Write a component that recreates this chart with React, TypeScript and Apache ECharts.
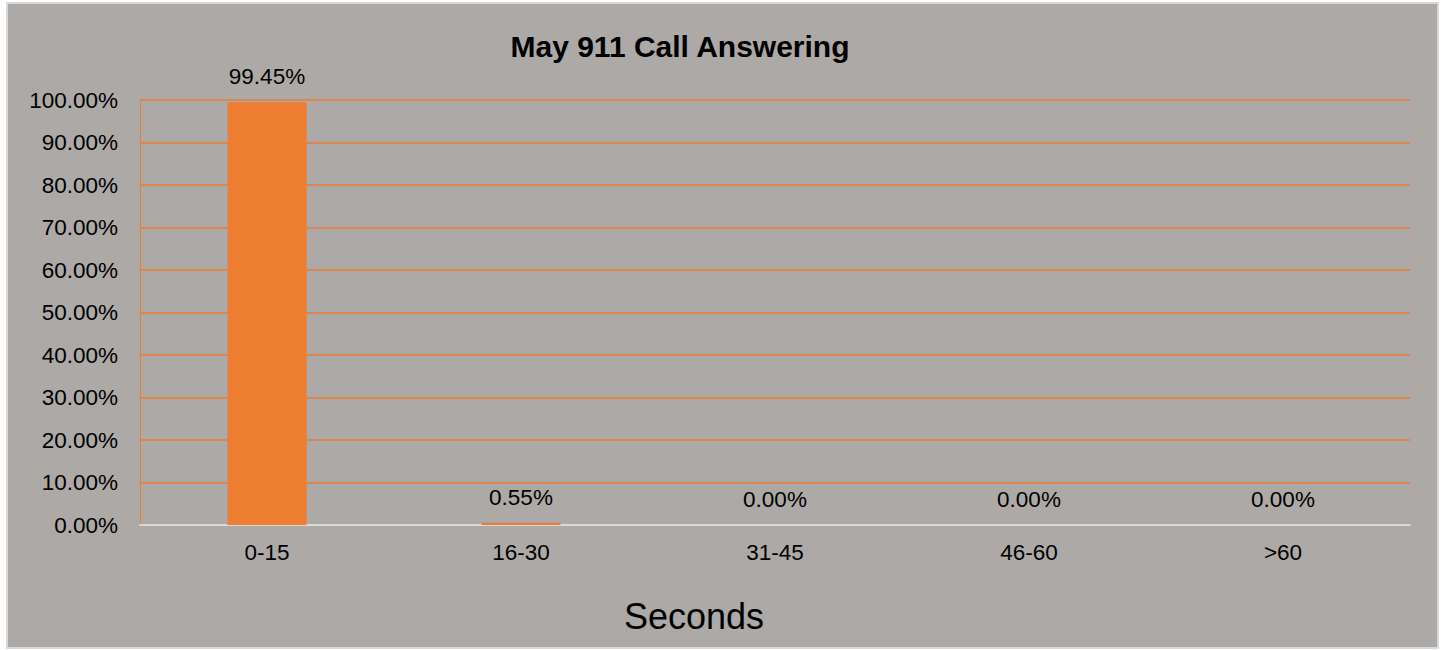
import React, { useEffect, useRef } from "react";
import * as echarts from "echarts";

const categories = ["0-15", "16-30", "31-45", "46-60", ">60"];
const values = [99.45, 0.55, 0, 0, 0];
const titleText = "May 911 Call Answering";
const xAxisTitle = "Seconds";

const FONT = "'Liberation Sans', Arial, sans-serif";

export default function App() {
  const ref = useRef<HTMLDivElement>(null);
  useEffect(() => {
    if (!ref.current) return;
    const chart = echarts.init(ref.current, undefined, { renderer: "svg" });
    chart.setOption({
      animation: false,
      backgroundColor: "#ffffff",
      graphic: [
        {
          type: "rect",
          z: -10,
          shape: { x: 7, y: 3, width: 1431, height: 645 },
          style: { fill: "#ADA9A7", stroke: "#D9D9D9", lineWidth: 2 },
          silent: true,
        },
        {
          type: "text",
          x: 680,
          y: 46,
          style: {
            text: titleText,
            fontFamily: FONT,
            fontSize: 30,
            fontWeight: "bold",
            fill: "#000",
            textAlign: "center",
            textVerticalAlign: "middle",
          },
        },
        {
          type: "text",
          x: 694,
          y: 616,
          style: {
            text: xAxisTitle,
            fontFamily: FONT,
            fontSize: 36,
            fill: "#000",
            textAlign: "center",
            textVerticalAlign: "middle",
          },
        },
      ],
      grid: { left: 140, right: 33, top: 100, bottom: 125, containLabel: false },
      xAxis: {
        type: "category",
        data: categories,
        axisLine: { show: true, lineStyle: { color: "#D9D9D9", width: 2 } },
        axisTick: { show: false },
        axisLabel: { color: "#000", fontFamily: FONT, fontSize: 22.5, margin: 16 },
        splitLine: { show: false },
      },
      yAxis: {
        type: "value",
        min: 0,
        max: 100,
        interval: 10,
        axisLine: { show: true, lineStyle: { color: "#ED7D31", width: 1 } },
        axisTick: { show: false },
        axisLabel: {
          color: "#000",
          fontFamily: FONT,
          fontSize: 22.5,
          margin: 22,
          formatter: (v: number) => v.toFixed(2) + "%",
        },
        splitLine: { show: true, lineStyle: { color: "#ED7D31", width: 1.5 } },
      },
      series: [
        {
          type: "bar",
          data: values,
          barWidth: 79,
          itemStyle: { color: "#ED7D31" },
          label: {
            show: true,
            position: "top",
            distance: 14,
            color: "#000",
            fontFamily: FONT,
            fontSize: 22.5,
            formatter: (p: any) => Number(p.value).toFixed(2) + "%",
          },
        },
      ],
    });
    return () => chart.dispose();
  }, []);
  return (
    <div
      ref={ref}
      style={{ position: "absolute", left: 0, top: 0, width: 1443, height: 650 }}
    />
  );
}
